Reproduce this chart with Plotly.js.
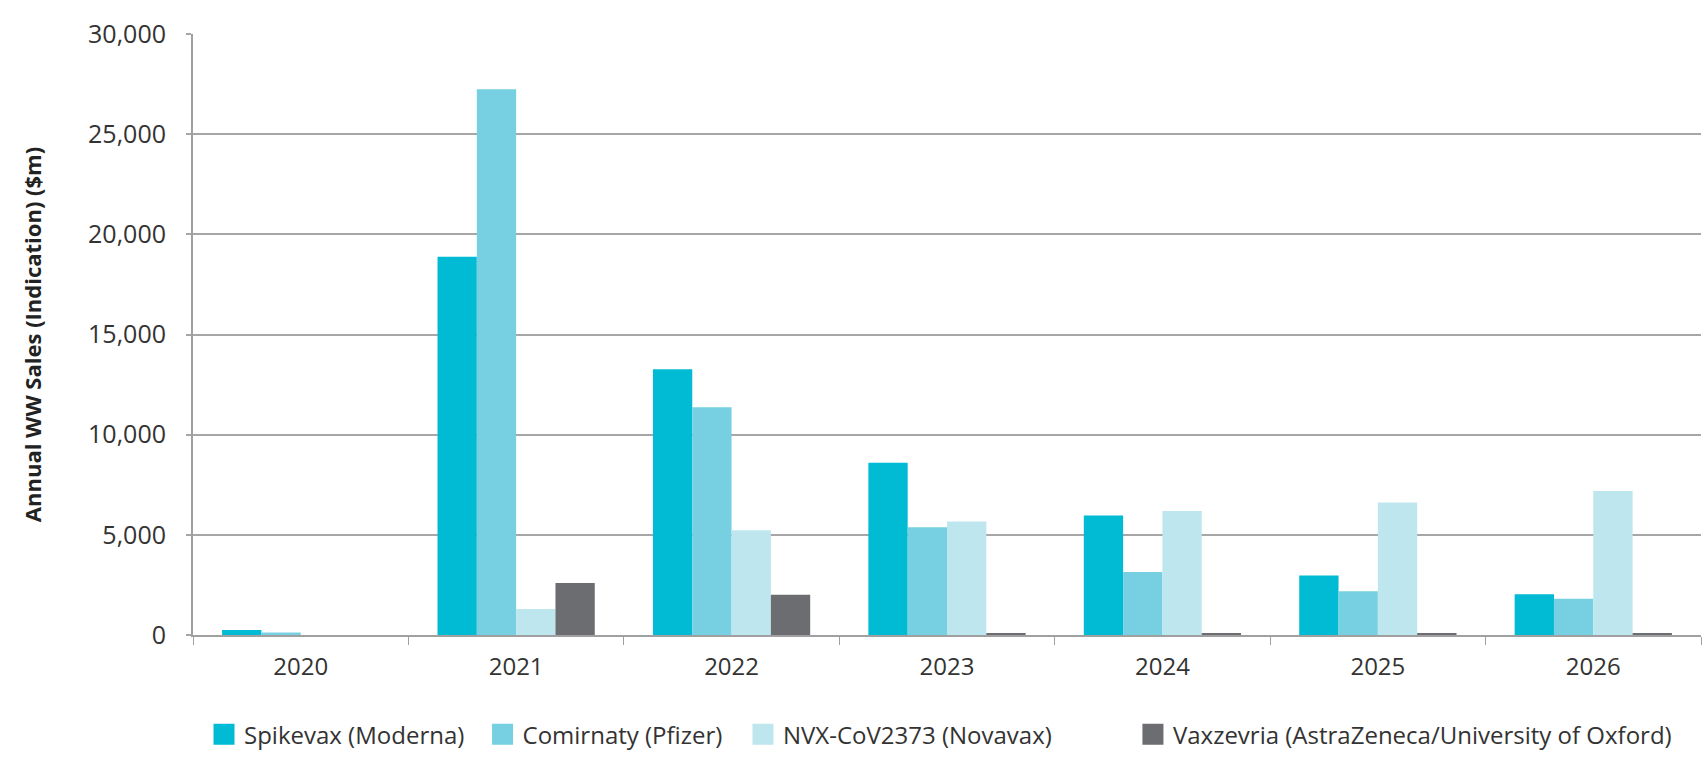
<!DOCTYPE html>
<html>
<head>
<meta charset="utf-8">
<script src="https://cdn.plot.ly/plotly-3.0.1.min.js"></script>
<style>html,body{margin:0;padding:0;background:#fff;}#chart{width:1706px;height:764px;}</style>
</head>
<body>
<div id="chart"></div>
<script>
const years = ['2020','2021','2022','2023','2024','2025','2026'];
const seriesNames = ['Spikevax (Moderna)','Comirnaty (Pfizer)','NVX-CoV2373 (Novavax)','Vaxzevria (AstraZeneca/University of Oxford)'];
const spikevax = [250, 18880, 13260, 8600, 5960, 2970, 2040];
const comirnaty = [120, 27240, 11370, 5380, 3150, 2180, 1810];
const novavax = [0, 1300, 5230, 5660, 6190, 6620, 7190];
const vaxzevria = [0, 2600, 2010, 100, 100, 100, 100];
const yTickVals = [0, 5000, 10000, 15000, 20000, 25000, 30000];
const yTickText = ['0','5,000','10,000','15,000','20,000','25,000','30,000'];
const colors = ['#00bbd3','#76d0e1','#bde6ef','#6c6d70'];

const values = [spikevax, comirnaty, novavax, vaxzevria];
const legendIds = ['legend','legend2','legend3','legend4'];
const traces = values.map((v, i) => ({
  type: 'bar', x: years, y: v, name: seriesNames[i],
  marker: {color: colors[i], line: {width: 0}},
  showlegend: false,
  legendgroup: 'g' + i,
  hoverinfo: 'x+y+name'
}));
// legend entries with larger square swatches, one legend box per entry
seriesNames.forEach((n, i) => {
  traces.push({
    type: 'scatter', mode: 'markers', x: [null], y: [null], name: n,
    legendgroup: 'g' + i, legend: legendIds[i],
    marker: {symbol: 'square', size: 16, color: colors[i], line: {width: 5, color: colors[i]}},
    hoverinfo: 'skip'
  });
});

const fam = '"Open Sans", Roboto, sans-serif';
const legendX = [0.0073, 0.1920, 0.3647, 0.6233];
function mkLegend(x) {
  return {
    orientation: 'h', x: x, xanchor: 'left', y: -0.166, yanchor: 'middle',
    font: {family: fam, size: 24, color: '#333333'},
    itemwidth: 30, bgcolor: 'rgba(0,0,0,0)'
  };
}
const layout = {
  width: 1706, height: 764,
  margin: {l: 193, r: 5, t: 34, b: 129, pad: 0},
  paper_bgcolor: '#ffffff', plot_bgcolor: '#ffffff',
  barmode: 'group', bargap: 0.27, bargroupgap: 0,
  font: {family: fam, size: 22, color: '#333333'},
  showlegend: true,
  legend: mkLegend(legendX[0]),
  legend2: mkLegend(legendX[1]),
  legend3: mkLegend(legendX[2]),
  legend4: mkLegend(legendX[3]),
  xaxis: {
    type: 'category', showgrid: false, zeroline: false,
    showline: true, linecolor: '#a0a0a0', linewidth: 2,
    ticks: 'outside', tickson: 'boundaries', ticklen: 8, tickcolor: '#a0a0a0', tickwidth: 1,
    ticklabelstandoff: 9,
    tickfont: {family: fam, size: 24, color: '#333333'},
    fixedrange: true
  },
  yaxis: {
    range: [0, 30000], tickvals: yTickVals, ticktext: yTickText,
    showgrid: true, gridcolor: '#a6a6a6', gridwidth: 2, zeroline: false,
    showline: true, linecolor: '#a0a0a0', linewidth: 2,
    ticks: 'outside', ticklen: 5, tickcolor: '#a6a6a6', tickwidth: 2,
    ticklabelstandoff: 15,
    tickfont: {family: fam, size: 25, color: '#333333'},
    title: {text: 'Annual WW Sales (Indication) ($m)', standoff: 40,
            font: {family: fam, size: 22, color: '#222222', weight: 'bold'}},
    automargin: false, fixedrange: true
  }
};
Plotly.newPlot('chart', traces, layout, {displayModeBar: false, staticPlot: true});
</script>
</body>
</html>
